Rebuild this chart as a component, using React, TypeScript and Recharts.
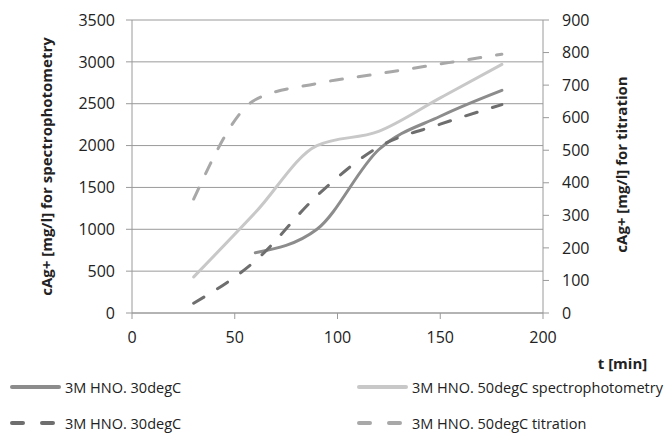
import { LineChart, Line, XAxis, YAxis, CartesianGrid, Label } from "recharts";

// sampling times [min]
const time = [30, 60, 90, 120, 150, 180];

// spectrophotometry, left axis [mg/l]
const spec30 = [null, 720, 1000, 1950, 2350, 2660];
const spec50 = [430, 1200, 2000, 2170, 2570, 2970];

// titration, right axis [mg/l]
const tit30 = [30, 160, 360, 510, 580, 640];
const tit50 = [350, 655, 705, 735, 765, 795];

const seriesNames = [
  "3M HNO. 30degC",
  "3M HNO. 50degC spectrophotometry",
  "3M HNO. 30degC",
  "3M HNO. 50degC titration",
];

const xTicks = [0, 50, 100, 150, 200];
const leftTicks = [0, 500, 1000, 1500, 2000, 2500, 3000, 3500];
const rightTicks = [0, 100, 200, 300, 400, 500, 600, 700, 800, 900];

const data = time.map((t, i) => ({
  t,
  spec30: spec30[i],
  spec50: spec50[i],
  tit30: tit30[i],
  tit50: tit50[i],
}));

const series = [
  { key: "spec30", axis: "left", color: "#8c8c8c", dash: undefined },
  { key: "spec50", axis: "left", color: "#c8c8c8", dash: undefined },
  { key: "tit30", axis: "right", color: "#6e6e6e", dash: "12 16" },
  { key: "tit50", axis: "right", color: "#a8a8a8", dash: "12 16" },
];

const font = "'Open Sans', Lato, sans-serif";
const axisColor = "#9a9a9a";
const tickStyle = { fontSize: 16, fill: "#222", fontFamily: font };
const titleStyle = { fontSize: 15, fontWeight: 700, fill: "#222", fontFamily: font };

function ChartLegend() {
  const colX = [10, 357];
  const rowY = [387, 423];
  return (
    <div style={{ fontFamily: font, fontSize: 14.5, color: "#222" }}>
      {series.map((s, i) => (
        <div
          key={s.key}
          style={{
            position: "absolute",
            left: colX[i % 2],
            top: rowY[Math.floor(i / 2)] - 12,
            height: 24,
            display: "flex",
            alignItems: "center",
            whiteSpace: "nowrap",
          }}
        >
          <svg width={51} height={10} style={{ marginRight: 4 }}>
            <line
              x1={2}
              y1={5}
              x2={s.dash ? 45 : 49}
              y2={5}
              stroke={s.color}
              strokeWidth={4}
              strokeLinecap="round"
              strokeDasharray={s.dash ? "11 19" : undefined}
            />
          </svg>
          <span>{seriesNames[i]}</span>
        </div>
      ))}
    </div>
  );
}

export default function App() {
  return (
    <div style={{ position: "absolute", left: 0, top: 0, width: 667, height: 433 }}>
      <LineChart
        width={667}
        height={433}
        data={data}
        margin={{ top: 20, right: 0, bottom: 90, left: 0 }}
        style={{ fontFamily: font }}
      >
        <CartesianGrid yAxisId="left" vertical={false} stroke={axisColor} strokeWidth={1} />
        <XAxis
          dataKey="t"
          type="number"
          domain={[0, 200]}
          ticks={xTicks}
          height={30}
          stroke={axisColor}
          tickSize={6}
          tickMargin={13}
          tick={tickStyle}
        >
          <Label value="t [min]" position="center" dx={285} dy={36} style={titleStyle} />
        </XAxis>
        <YAxis
          yAxisId="left"
          width={132}
          domain={[0, 3500]}
          ticks={leftTicks}
          stroke={axisColor}
          tickSize={6}
          tickMargin={11}
          tick={tickStyle}
        >
          <Label
            value="cAg+ [mg/l] for spectrophotometry"
            position="center"
            angle={-90}
            dx={-19}
            style={titleStyle}
          />
        </YAxis>
        <YAxis
          yAxisId="right"
          orientation="right"
          width={124}
          domain={[0, 900]}
          ticks={rightTicks}
          stroke={axisColor}
          tickSize={6}
          tickMargin={13}
          tick={tickStyle}
        >
          <Label
            value="cAg+ [mg/l] for titration"
            position="center"
            angle={-90}
            dx={17}
            dy={-2}
            style={titleStyle}
          />
        </YAxis>
        {series.map((s) => (
          <Line
            key={s.key}
            yAxisId={s.axis}
            dataKey={s.key}
            type="monotone"
            stroke={s.color}
            strokeWidth={3}
            strokeDasharray={s.dash}
            strokeLinecap="round"
            dot={false}
            activeDot={false}
            isAnimationActive={false}
          />
        ))}
      </LineChart>
      <ChartLegend />
    </div>
  );
}
